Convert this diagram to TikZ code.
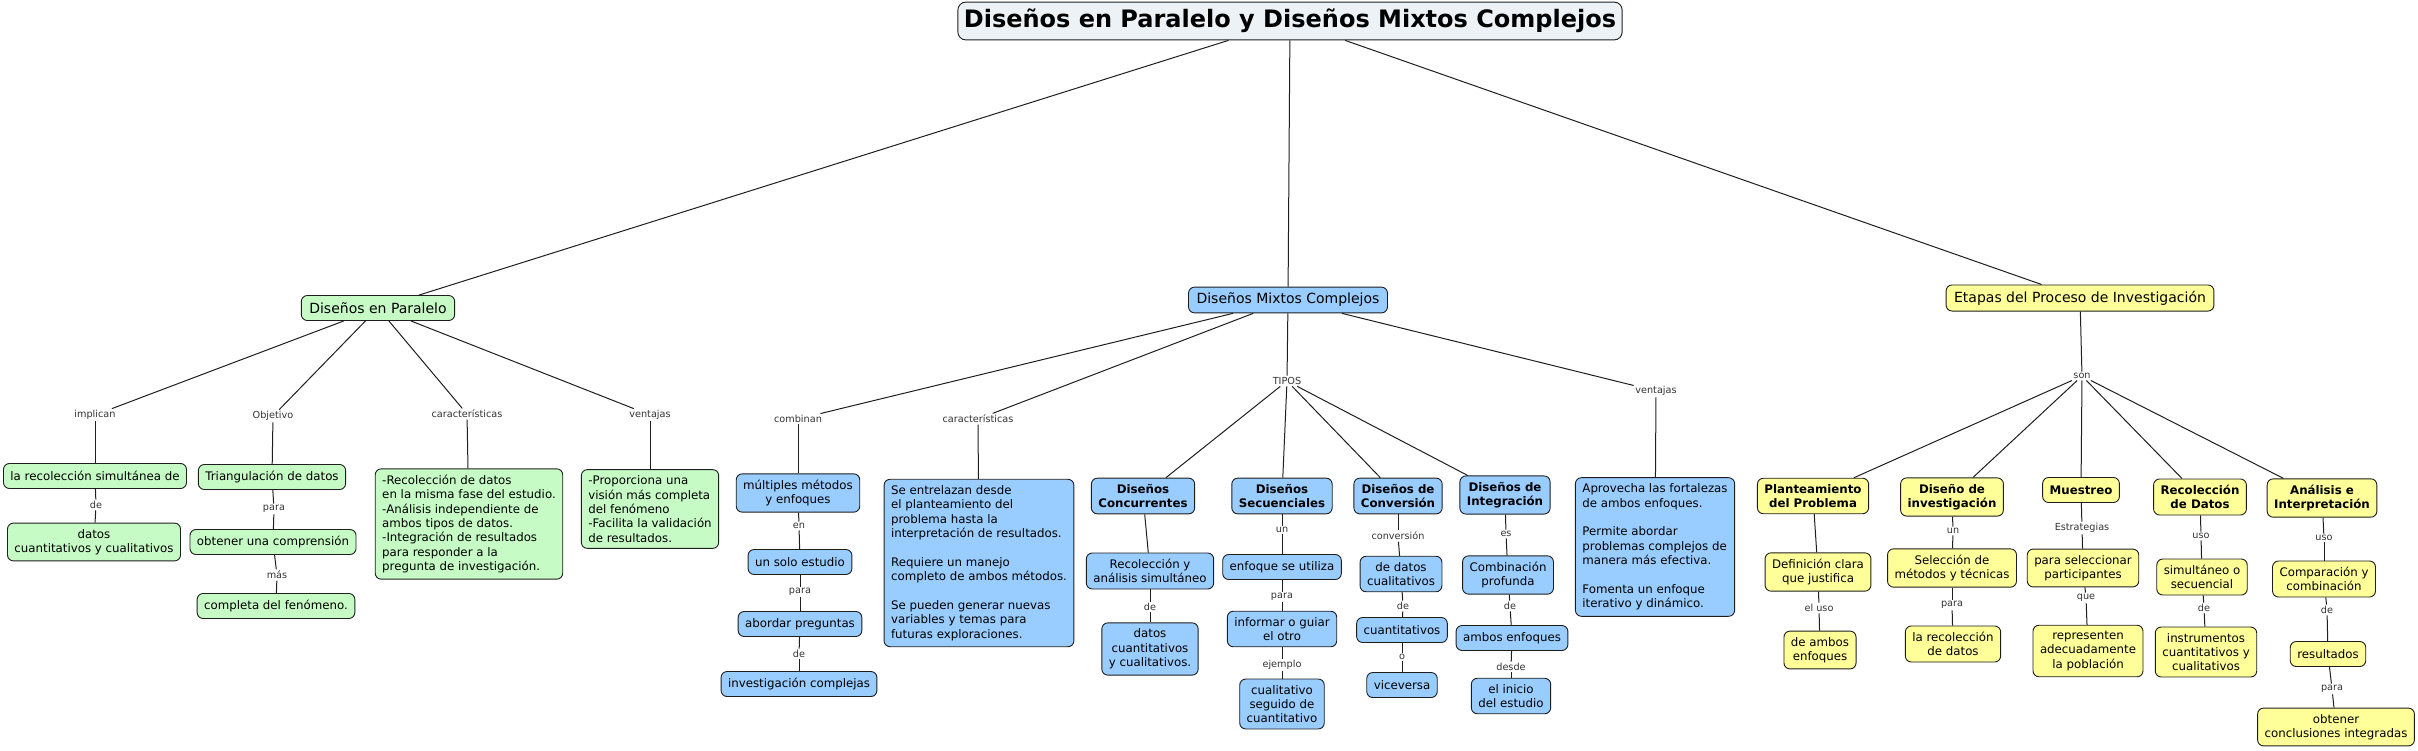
\documentclass[tikz,border=0pt]{standalone}
\usepackage{fontspec}
\setmainfont{DejaVu Sans}
\definecolor{verde}{RGB}{198,251,198}
\definecolor{azul}{RGB}{153,204,255}
\definecolor{amarillo}{RGB}{255,255,153}
\definecolor{gristitulo}{RGB}{236,242,245}
\definecolor{trazo}{RGB}{30,30,30}
\begin{document}
\begin{tikzpicture}[x=1pt,y=-1pt,
    concepto/.style={draw=trazo,line width=0.9pt,rounded corners=6pt,align=center,
      inner xsep=7pt,inner ysep=6pt,minimum height=25pt,
      font=\fontsize{11.8}{14.4}\selectfont},
    negrita/.style={font=\fontsize{11.8}{14.4}\selectfont\bfseries},
    nivel/.style={concepto,inner xsep=8pt,font=\fontsize{14}{16}\selectfont},
    verdes/.style={concepto,fill=verde},
    azules/.style={concepto,fill=azul},
    amarillos/.style={concepto,fill=amarillo},
    enlace/.style={inner sep=1.5pt,text=black!80,font=\fontsize{9.7}{11}\selectfont}]
  \useasboundingbox (0,0) rectangle (2418,750);
  \draw
    (1290,21) node[concepto,fill=gristitulo,rounded corners=8pt,inner xsep=6pt,inner ysep=7pt,
      font=\fontsize{24}{26}\selectfont\bfseries] (t){Diseños en Paralelo y Diseños Mixtos Complejos}
    (378,308) node[nivel,fill=verde] (par){Diseños en Paralelo}
    (1288,300) node[nivel,fill=azul] (mix){Diseños Mixtos Complejos}
    (2080,298) node[nivel,fill=amarillo] (eta){Etapas del Proceso de Investigación}
    (95,415) node[enlace] (l1){implican}
    (273,416) node[enlace] (l2){Objetivo}
    (467,414) node[enlace] (l3){características}
    (650,415) node[enlace] (l4){ventajas}
    (95,476) node[verdes] (p1){la recolección simultánea de}
    (96,505) node[enlace] (l5){de}
    (94,542) node[verdes] (p2){datos\\ cuantitativos y cualitativos}
    (272,477) node[verdes] (p3){Triangulación de datos}
    (274,509) node[enlace] (l6){para}
    (273,542) node[verdes] (p4){obtener una comprensión}
    (277,575) node[enlace] (l7){más}
    (276,606) node[verdes] (p5){completa del fenómeno.}
    (469,524) node[verdes,align=left] (p6){-Recolección de datos\\ en la misma fase del estudio.\\
      -Análisis independiente de\\ ambos tipos de datos.\\ -Integración de resultados\\
      para responder a la\\ pregunta de investigación.}
    (650,509) node[verdes,align=left] (p7){-Proporciona una\\ visión más completa\\ del fenómeno\\
      -Facilita la validación\\ de resultados.}
    (798,419) node[enlace] (l8){combinan}
    (978,419) node[enlace] (l9){características}
    (1287,381) node[enlace] (l10){TIPOS}
    (1656,391) node[enlace] (l11){ventajas}
    (798,493) node[azules] (m1){múltiples métodos\\ y enfoques}
    (799,526) node[enlace] (l12){en}
    (800,562) node[azules] (m2){un solo estudio}
    (800,592) node[enlace] (l13){para}
    (800,624) node[azules] (m3){abordar preguntas}
    (799,654) node[enlace] (l14){de}
    (799,684) node[azules] (m4){investigación complejas}
    (979,563) node[azules,align=left] (m5){Se entrelazan desde\\ el planteamiento del\\ problema hasta la\\
      interpretación de resultados.\\[14.4pt] Requiere un manejo\\ completo de ambos métodos.\\[14.4pt]
      Se pueden generar nuevas\\ variables y temas para\\ futuras exploraciones.}
    (1143,496) node[azules,negrita] (c1){Diseños\\ Concurrentes}
    (1150,571) node[azules] (c2){Recolección y\\ análisis simultáneo}
    (1150,607) node[enlace] (l15){de}
    (1150,649) node[azules] (c3){datos\\ cuantitativos\\ y cualitativos.}
    (1282,496) node[azules,negrita] (s1){Diseños\\ Secuenciales}
    (1282,530) node[enlace] (l16){un}
    (1282,567) node[azules] (s2){enfoque se utiliza}
    (1282,597) node[enlace] (l17){para}
    (1282,629) node[azules] (s3){informar o guiar\\ el otro}
    (1282,665) node[enlace] (l18){ejemplo}
    (1282,704) node[azules] (s4){cualitativo\\ seguido de\\ cuantitativo}
    (1398,496) node[azules,negrita] (v1){Diseños de\\ Conversión}
    (1398,536) node[enlace] (l19){conversión}
    (1401,574) node[azules] (v2){de datos\\ cualitativos}
    (1403,606) node[enlace] (l20){de}
    (1402,630) node[azules] (v3){cuantitativos}
    (1402,657) node[enlace] (l21){o}
    (1402,685) node[azules] (v4){viceversa}
    (1505,495) node[azules,negrita] (i1){Diseños de\\ Integración}
    (1506,534) node[enlace] (l22){es}
    (1508,575) node[azules] (i2){Combinación\\ profunda}
    (1510,606) node[enlace] (l23){de}
    (1512,638) node[azules] (i3){ambos enfoques}
    (1511,667) node[enlace] (l24){desde}
    (1511,696) node[azules] (i4){el inicio\\ del estudio}
    (1655,547) node[azules,align=left] (m6){Aprovecha las fortalezas\\ de ambos enfoques.\\[14.4pt]
      Permite abordar\\ problemas complejos de\\ manera más efectiva.\\[14.4pt]
      Fomenta un enfoque\\ iterativo y dinámico.}
    (2082,376) node[enlace] (l25){son}
    (1813,496) node[amarillos,negrita] (e1){Planteamiento\\ del Problema}
    (1818,572) node[amarillos] (e2){Definición clara\\ que justifica}
    (1819,608) node[enlace] (l26){el uso}
    (1820,650) node[amarillos] (e3){de ambos\\ enfoques}
    (1952,497) node[amarillos,negrita] (d1){Diseño de\\ investigación}
    (1953,531) node[enlace] (l27){un}
    (1952,568) node[amarillos] (d2){Selección de\\ métodos y técnicas}
    (1952,605) node[enlace] (l28){para}
    (1953,644) node[amarillos] (d3){la recolección\\ de datos}
    (2081,490) node[amarillos,negrita] (u1){Muestreo}
    (2082,528) node[enlace] (l29){Estrategias}
    (2083,568) node[amarillos] (u2){para seleccionar\\ participantes}
    (2086,598) node[enlace] (l30){que}
    (2088,651) node[amarillos] (u3){representen\\ adecuadamente\\ la población}
    (2200,497) node[amarillos,negrita] (r1){Recolección\\ de Datos}
    (2201,536) node[enlace] (l31){uso}
    (2202,577) node[amarillos] (r2){simultáneo o\\ secuencial}
    (2204,608) node[enlace] (l32){de}
    (2206,652) node[amarillos] (r3){instrumentos\\ cuantitativos y\\ cualitativos}
    (2322,498) node[amarillos,negrita] (a1){Análisis e\\ Interpretación}
    (2324,538) node[enlace] (l33){uso}
    (2324,579) node[amarillos] (a2){Comparación y\\ combinación}
    (2327,610) node[enlace] (l34){de}
    (2328,654) node[amarillos] (a3){resultados}
    (2332,689) node[enlace] (l35){para}
    (2336,727) node[amarillos] (a4){obtener\\ conclusiones integradas};
  \begin{scope}[-,draw=trazo,line width=1pt]
    \draw (t) to (par);
    \draw (t) to (mix);
    \draw (t) to (eta);
    \draw (par) to (l1);
    \draw (l1) to (p1);
    \draw (p1) to (l5);
    \draw (l5) to (p2);
    \draw (par) to (l2);
    \draw (l2) to (p3);
    \draw (p3) to (l6);
    \draw (l6) to (p4);
    \draw (p4) to (l7);
    \draw (l7) to (p5);
    \draw (par) to (l3);
    \draw (l3) to (p6);
    \draw (par) to (l4);
    \draw (l4) to (p7);
    \draw (mix) to (l8);
    \draw (l8) to (m1);
    \draw (m1) to (l12);
    \draw (l12) to (m2);
    \draw (m2) to (l13);
    \draw (l13) to (m3);
    \draw (m3) to (l14);
    \draw (l14) to (m4);
    \draw (mix) to (l9);
    \draw (l9) to (m5);
    \draw (mix) to (l10);
    \draw (l10) to (c1);
    \draw (l10) to (s1);
    \draw (l10) to (v1);
    \draw (l10) to (i1);
    \draw (c1) to (c2);
    \draw (c2) to (l15);
    \draw (l15) to (c3);
    \draw (s1) to (l16);
    \draw (l16) to (s2);
    \draw (s2) to (l17);
    \draw (l17) to (s3);
    \draw (s3) to (l18);
    \draw (l18) to (s4);
    \draw (v1) to (l19);
    \draw (l19) to (v2);
    \draw (v2) to (l20);
    \draw (l20) to (v3);
    \draw (v3) to (l21);
    \draw (l21) to (v4);
    \draw (i1) to (l22);
    \draw (l22) to (i2);
    \draw (i2) to (l23);
    \draw (l23) to (i3);
    \draw (i3) to (l24);
    \draw (l24) to (i4);
    \draw (mix) to (l11);
    \draw (l11) to (m6);
    \draw (eta) to (l25);
    \draw (l25) to (e1);
    \draw (l25) to (d1);
    \draw (l25) to (u1);
    \draw (l25) to (r1);
    \draw (l25) to (a1);
    \draw (e1) to (e2);
    \draw (e2) to (l26);
    \draw (l26) to (e3);
    \draw (d1) to (l27);
    \draw (l27) to (d2);
    \draw (d2) to (l28);
    \draw (l28) to (d3);
    \draw (u1) to (l29);
    \draw (l29) to (u2);
    \draw (u2) to (l30);
    \draw (l30) to (u3);
    \draw (r1) to (l31);
    \draw (l31) to (r2);
    \draw (r2) to (l32);
    \draw (l32) to (r3);
    \draw (a1) to (l33);
    \draw (l33) to (a2);
    \draw (a2) to (l34);
    \draw (l34) to (a3);
    \draw (a3) to (l35);
    \draw (l35) to (a4);
  \end{scope}
\end{tikzpicture}
\end{document}
